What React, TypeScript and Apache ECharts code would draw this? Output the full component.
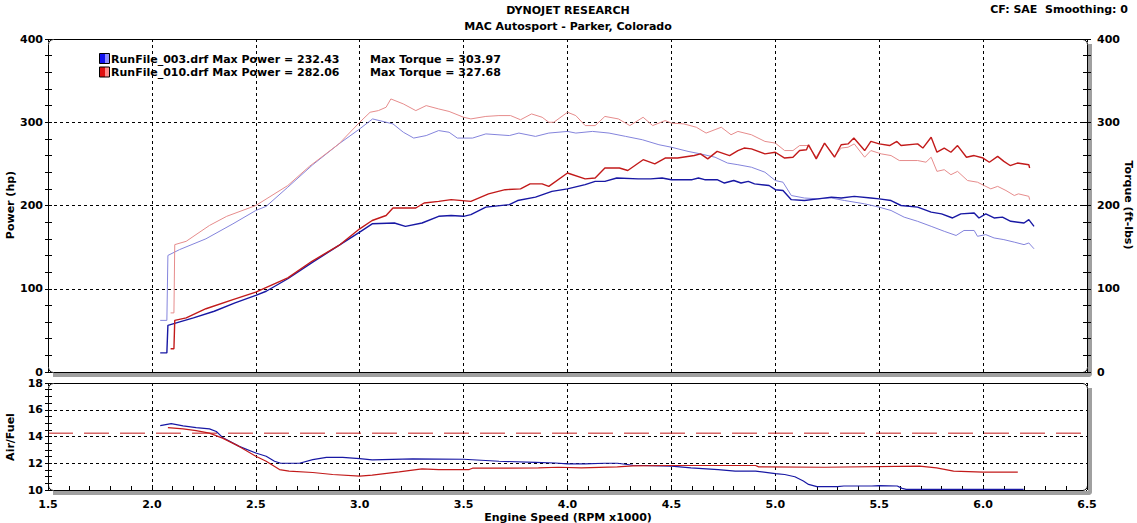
import React, { useEffect, useRef } from "react";
import * as echarts from "echarts";

// ---------- data ----------
const rpmBluePower = [2.04, 2.072, 2.077, 2.13, 2.2, 2.3, 2.4, 2.5, 2.55, 2.654, 2.774, 2.9, 3.0, 3.06, 3.167, 3.22, 3.3, 3.38, 3.44, 3.5, 3.535, 3.607, 3.72, 3.76, 3.846, 3.925, 4.0, 4.085, 4.133, 4.18, 4.237, 4.34, 4.4, 4.455, 4.5, 4.6, 4.63, 4.66, 4.72, 4.755, 4.8, 4.835, 4.87, 4.9, 4.97, 5.0, 5.037, 5.077, 5.14, 5.205, 5.27, 5.317, 5.38, 5.46, 5.5, 5.557, 5.605, 5.685, 5.75, 5.8, 5.853, 5.893, 5.957, 5.98, 6.013, 6.053, 6.093, 6.133, 6.197, 6.22, 6.245];
const bluePowerHp = [23, 23, 56, 60, 65, 73, 83, 92, 97, 112, 132, 152, 168, 178, 179, 175, 179, 187, 188, 187, 189, 198, 201, 206, 210, 217, 220, 225, 229, 229, 233, 232, 232, 233, 231, 231, 233, 231, 231, 227, 230, 227, 229, 226, 224, 219, 218, 207, 206, 208, 210, 209, 211, 209, 208, 206, 200, 198, 192, 190, 185, 190, 191, 185, 190, 185, 186, 181, 179, 183, 175];

const rpmBlueTorque = [2.04, 2.072, 2.077, 2.133, 2.26, 2.39, 2.5, 2.55, 2.654, 2.774, 2.9, 3.0, 3.062, 3.16, 3.21, 3.26, 3.32, 3.38, 3.43, 3.47, 3.543, 3.607, 3.72, 3.766, 3.846, 3.91, 4.0, 4.04, 4.12, 4.2, 4.28, 4.36, 4.44, 4.5, 4.58, 4.64, 4.71, 4.77, 4.82, 4.885, 4.95, 5.0, 5.037, 5.077, 5.14, 5.205, 5.27, 5.333, 5.43, 5.5, 5.557, 5.62, 5.685, 5.75, 5.813, 5.87, 5.908, 5.957, 5.973, 6.013, 6.053, 6.1, 6.15, 6.197, 6.22, 6.245];
const blueTorqueFtLb = [62, 62, 140, 147, 160, 178, 194, 199, 222, 249, 274, 292, 304, 298, 288, 281, 284, 290, 288, 281, 281, 286, 284, 287, 283, 287, 289, 287, 289, 287, 283, 279, 273, 270, 265, 262, 258, 251, 249, 246, 240, 230, 228, 212, 209, 208, 209, 206, 202, 198, 194, 186, 181, 175, 169, 164, 170, 170, 163, 165, 161, 159, 156, 153, 155, 148];

const rpmRedPower = [2.09, 2.106, 2.11, 2.165, 2.26, 2.39, 2.5, 2.654, 2.77, 2.9, 3.0, 3.06, 3.127, 3.16, 3.27, 3.31, 3.38, 3.44, 3.535, 3.62, 3.7, 3.774, 3.82, 3.878, 3.91, 4.0, 4.085, 4.133, 4.18, 4.25, 4.29, 4.364, 4.42, 4.47, 4.53, 4.61, 4.64, 4.675, 4.72, 4.78, 4.82, 4.85, 4.885, 4.95, 5.0, 5.045, 5.085, 5.117, 5.15, 5.16, 5.197, 5.237, 5.285, 5.317, 5.35, 5.378, 5.43, 5.46, 5.5, 5.55, 5.585, 5.605, 5.685, 5.71, 5.75, 5.778, 5.813, 5.845, 5.877, 5.92, 5.957, 6.0, 6.03, 6.07, 6.1, 6.13, 6.165, 6.22, 6.224];
const redPowerHp = [28, 28, 62, 65, 76, 87, 96, 113, 133, 152, 172, 182, 188, 197, 197, 203, 205, 207, 205, 214, 219, 220, 226, 226, 223, 239, 232, 233, 245, 245, 242, 255, 250, 257, 257, 260, 262, 256, 265, 260, 266, 269, 268, 262, 264, 257, 258, 266, 267, 273, 256, 275, 258, 273, 274, 281, 266, 277, 274, 272, 277, 272, 274, 269, 282, 264, 269, 264, 272, 258, 260, 257, 252, 259, 253, 248, 251, 249, 245];

const rpmRedTorque = [2.09, 2.106, 2.11, 2.165, 2.277, 2.36, 2.5, 2.654, 2.758, 2.9, 3.0, 3.05, 3.09, 3.127, 3.15, 3.21, 3.27, 3.32, 3.38, 3.43, 3.5, 3.535, 3.607, 3.67, 3.726, 3.774, 3.827, 3.878, 3.91, 3.934, 4.0, 4.04, 4.085, 4.133, 4.18, 4.245, 4.3, 4.364, 4.41, 4.47, 4.5, 4.56, 4.62, 4.667, 4.74, 4.787, 4.82, 4.885, 4.95, 5.0, 5.045, 5.085, 5.117, 5.157, 5.197, 5.237, 5.285, 5.317, 5.35, 5.38, 5.43, 5.46, 5.51, 5.557, 5.597, 5.685, 5.725, 5.75, 5.778, 5.813, 5.845, 5.877, 5.925, 5.973, 6.037, 6.07, 6.11, 6.15, 6.17, 6.22, 6.224];
const redTorqueFtLb = [71, 71, 153, 157, 176, 187, 200, 224, 247, 274, 300, 312, 314, 318, 328, 322, 314, 320, 316, 313, 306, 304, 307, 308, 308, 303, 310, 306, 300, 300, 312, 308, 296, 296, 307, 304, 296, 306, 296, 302, 299, 298, 294, 287, 294, 285, 289, 285, 277, 275, 266, 266, 272, 272, 258, 275, 259, 269, 270, 274, 258, 266, 262, 260, 254, 254, 252, 258, 241, 243, 237, 241, 230, 228, 220, 223, 218, 212, 214, 211, 207];

const rpmBlueAfr = [2.04, 2.093, 2.15, 2.213, 2.277, 2.31, 2.34, 2.42, 2.5, 2.55, 2.59, 2.62, 2.71, 2.774, 2.84, 2.918, 3.0, 3.06, 3.255, 3.5, 3.67, 3.845, 3.94, 4.0, 4.083, 4.18, 4.24, 4.315, 4.5, 4.594, 4.725, 4.807, 4.905, 5.0, 5.045, 5.094, 5.135, 5.16, 5.2, 5.3, 5.33, 5.464, 5.5, 5.587, 5.61, 5.63, 6.195];
const blueAfr = [14.81, 14.96, 14.8, 14.67, 14.57, 14.37, 13.93, 13.26, 12.77, 12.52, 12.15, 12.0, 12.0, 12.27, 12.44, 12.44, 12.35, 12.25, 12.32, 12.3, 12.15, 12.07, 12.02, 11.95, 11.95, 12.0, 12.0, 11.85, 11.78, 11.65, 11.53, 11.41, 11.41, 11.23, 11.16, 10.99, 10.67, 10.42, 10.25, 10.25, 10.3, 10.3, 10.32, 10.3, 10.12, 10.05, 10.05];

const rpmRedAfr = [2.077, 2.15, 2.213, 2.277, 2.34, 2.42, 2.5, 2.55, 2.614, 2.66, 2.774, 2.87, 3.0, 3.06, 3.19, 3.3, 3.38, 3.527, 3.543, 3.86, 3.955, 4.067, 4.24, 4.315, 4.5, 4.905, 4.92, 5.234, 5.694, 5.776, 5.858, 6.0, 6.167];
const redAfr = [14.67, 14.57, 14.44, 14.25, 13.88, 13.26, 12.52, 12.15, 11.53, 11.41, 11.31, 11.16, 11.04, 11.11, 11.36, 11.58, 11.53, 11.53, 11.63, 11.65, 11.7, 11.65, 11.73, 11.8, 11.83, 11.83, 11.73, 11.7, 11.78, 11.65, 11.41, 11.33, 11.33];

const afrTarget = 14.25;

const rpmRange = [1.5, 6.5];
const powerRange = [0, 400];
const afrRange = [10, 18];

const titleLines = ["DYNOJET RESEARCH", "MAC Autosport - Parker, Colorado"];
const cornerNote = "CF: SAE  Smoothing: 0";
const legendRuns = ["RunFile_003.drf Max Power = 232.43", "RunFile_010.drf Max Power = 282.06"];
const legendTorques = ["Max Torque = 303.97", "Max Torque = 327.68"];

// ---------- styling ----------
const FONT = '"DejaVu Sans", Verdana, sans-serif';
const BOLD = `bold 11px ${FONT}`;
const DARK_BLUE = "#1818a4";
const DARK_RED = "#c21a1a";
const LIGHT_BLUE = "#8484dc";
const LIGHT_RED = "#e68c8c";
const SHADOW = "#a0a0a0";

const G0 = { left: 48, top: 39, width: 1039, height: 333 };
const G1 = { left: 48, top: 383, width: 1039, height: 107 };

function pairs(x: number[], y: number[]) {
  return x.map((v, i) => [v, y[i]]);
}

const labelStyle = { color: "#000", fontFamily: FONT, fontWeight: "bold" as const, fontSize: 11 };
const gridLine = { show: true, lineStyle: { color: "#000", width: 1, type: [3, 3] } };
const tickLine = { color: "#000", width: 1 };

function lineSeries(name: string, data: number[][], color: string, width: number, xi: number, yi: number, extra: any = {}) {
  return {
    name,
    type: "line",
    xAxisIndex: xi,
    yAxisIndex: yi,
    data,
    symbol: "none",
    showSymbol: false,
    silent: true,
    lineStyle: { color, width, ...(extra.lineStyle || {}) },
    itemStyle: { color },
    emphasis: { disabled: true },
    z: extra.z ?? 8,
  };
}

function seg(x1: number, y1: number, x2: number, y2: number, stroke: string, lineWidth: number, z: number) {
  return { type: "line", z, silent: true, shape: { x1, y1, x2, y2 }, style: { stroke, lineWidth } };
}

function arc(cx: number, cy: number, r: number, a0: number, a1: number, z: number) {
  return {
    type: "arc",
    z,
    silent: true,
    shape: { cx, cy, r, startAngle: a0, endAngle: a1, clockwise: true },
    style: { stroke: "#000", lineWidth: 1, fill: "none" },
  };
}

// rounded black frame built from lines and arcs
function frameGraphics(g: { left: number; top: number; width: number; height: number }) {
  const L = g.left + 0.5;
  const T = g.top + 0.5;
  const R = g.left + g.width + 0.5;
  const B = g.top + g.height + 0.5;
  const r = 5;
  const P = Math.PI;
  return [
    seg(L + r, T, R - r, T, "#000", 1, 21),
    seg(L + r, B, R - r, B, "#000", 1, 21),
    seg(L, T + r, L, B - r, "#000", 1, 21),
    seg(R, T + r, R, B - r, "#000", 1, 21),
    arc(L + r, T + r, r, P, 1.5 * P, 21),
    arc(R - r, T + r, r, 1.5 * P, 2 * P, 21),
    arc(R - r, B - r, r, 0, P / 2, 21),
    arc(L + r, B - r, r, P / 2, P, 21),
  ];
}

function txt(text: string, x: number, y: number, align: string, rotation = 0) {
  return {
    type: "text",
    x,
    y,
    rotation,
    z: 22,
    silent: true,
    style: { text, x: 0, y: 0, font: BOLD, fill: "#000", textAlign: align, textVerticalAlign: "middle" },
  };
}

function swatch(y: number, c0: string, c1: string) {
  return {
    type: "rect",
    z: 22,
    silent: true,
    shape: { x: 99.5, y, width: 10, height: 10 },
    style: {
      fill: new echarts.graphic.LinearGradient(0, 0, 1, 0, [
        { offset: 0, color: c0 },
        { offset: 0.5, color: c0 },
        { offset: 0.55, color: c1 },
        { offset: 1, color: c1 },
      ]),
      stroke: "#000",
      lineWidth: 1,
    },
  };
}

function yAxisBase(gridIndex: number, position: string, range: number[], interval: number, minorSplit: number) {
  return {
    type: "value",
    gridIndex,
    position,
    offset: 0,
    z: 5,
    min: range[0],
    max: range[1],
    interval,
    axisLine: { show: false },
    splitLine: { show: false },
    minorSplitLine: { show: false },
    axisLabel: { show: false },
    axisTick: { show: true, inside: false, length: 4, lineStyle: tickLine },
    minorTick: { show: true, splitNumber: minorSplit, length: 4, lineStyle: tickLine },
  };
}

// CSS drop-shadow strips placed behind the (transparent) chart canvas
function shadowDivs(g: { left: number; top: number; width: number; height: number }, key: string) {
  const R = g.left + g.width;
  const B = g.top + g.height;
  return [
    <div
      key={key + "r"}
      style={{ position: "absolute", left: R + 1, top: g.top + 5, width: 4, height: g.height, background: SHADOW, borderBottomRightRadius: 4 }}
    />,
    <div
      key={key + "b"}
      style={{ position: "absolute", left: g.left + 5, top: B + 1, width: g.width, height: 4, background: SHADOW, borderBottomRightRadius: 4 }}
    />,
  ];
}

export default function App() {
  const ref = useRef<HTMLDivElement>(null);

  useEffect(() => {
    if (!ref.current) return;
    const chart = echarts.init(ref.current, null, { renderer: "svg" });

    const yAxes: any[] = [];
    yAxes.push({
      ...yAxisBase(0, "left", powerRange, 100, 5),
      axisLabel: { show: true, margin: 5, ...labelStyle },
      axisTick: { show: true, inside: false, length: 3, lineStyle: tickLine },
      minorTick: { show: true, splitNumber: 5, length: 3, lineStyle: tickLine },
      splitLine: gridLine,
    });
    yAxes.push({
      ...yAxisBase(0, "right", powerRange, 100, 5),
      z: 30,
      axisLabel: { show: true, margin: 10, ...labelStyle },
      axisTick: { show: true, inside: false, length: 4, lineStyle: tickLine },
      minorTick: { show: true, splitNumber: 5, length: 4, lineStyle: tickLine },
    });
    yAxes.push({
      ...yAxisBase(0, "left", powerRange, 100, 5),
      axisTick: { show: true, inside: true, length: 4, lineStyle: tickLine },
    });
    yAxes.push({
      ...yAxisBase(0, "right", powerRange, 100, 5),
      axisTick: { show: true, inside: true, length: 4, lineStyle: tickLine },
    });
    yAxes.push({
      ...yAxisBase(1, "left", afrRange, 2, 4),
      axisLabel: { show: true, margin: 5, ...labelStyle },
      axisTick: { show: true, inside: false, length: 3, lineStyle: tickLine },
      minorTick: { show: true, splitNumber: 4, length: 3, lineStyle: tickLine },
      splitLine: gridLine,
    });
    yAxes.push({
      ...yAxisBase(1, "left", afrRange, 2, 4),
      axisTick: { show: true, inside: true, length: 4, lineStyle: tickLine },
    });

    const option: any = {
      animation: false,
      backgroundColor: "transparent",
      grid: [
        { ...G0, show: false, containLabel: false },
        { ...G1, show: false, containLabel: false },
      ],
      xAxis: [
        {
          type: "value",
          gridIndex: 0,
          z: 5,
          min: rpmRange[0],
          max: rpmRange[1],
          interval: 0.5,
          axisLine: { show: false },
          axisTick: { show: false },
          axisLabel: { show: false },
          splitLine: gridLine,
        },
        {
          type: "value",
          gridIndex: 1,
          z: 5,
          min: rpmRange[0],
          max: rpmRange[1],
          interval: 0.5,
          axisLine: { show: false },
          axisTick: { show: true, inside: true, length: 4, lineStyle: tickLine },
          minorTick: { show: true, splitNumber: 5, length: 4, lineStyle: tickLine },
          axisLabel: {
            show: true,
            margin: 9,
            showMinLabel: true,
            showMaxLabel: true,
            formatter: (v: number) => v.toFixed(1),
            ...labelStyle,
          },
          splitLine: gridLine,
        },
      ],
      yAxis: yAxes,
      series: [
        lineSeries("RunFile_003 Torque", pairs(rpmBlueTorque, blueTorqueFtLb), LIGHT_BLUE, 1, 0, 1),
        lineSeries("RunFile_010 Torque", pairs(rpmRedTorque, redTorqueFtLb), LIGHT_RED, 1, 0, 1),
        lineSeries("RunFile_003 Power", pairs(rpmBluePower, bluePowerHp), DARK_BLUE, 1.4, 0, 0),
        lineSeries("RunFile_010 Power", pairs(rpmRedPower, redPowerHp), DARK_RED, 1.4, 0, 0),
        lineSeries("AFR target", [[rpmRange[0], afrTarget], [rpmRange[1], afrTarget]], DARK_RED, 1, 1, 4, {
          lineStyle: { type: [25, 11] },
          z: 7,
        }),
        lineSeries("RunFile_003 AFR", pairs(rpmBlueAfr, blueAfr), DARK_BLUE, 1.2, 1, 4),
        lineSeries("RunFile_010 AFR", pairs(rpmRedAfr, redAfr), DARK_RED, 1.2, 1, 4),
      ],
      graphic: {
        elements: [
          ...frameGraphics(G0),
          ...frameGraphics(G1),
          txt(titleLines[0], 568, 10, "center"),
          txt(titleLines[1], 568, 26, "center"),
          txt(cornerNote, 1128, 9, "right"),
          swatch(53.5, "#1010f0", "#8c8cff"),
          swatch(67, "#e01010", "#ff8c8c"),
          txt(legendRuns[0], 111, 59, "left"),
          txt(legendRuns[1], 111, 72.5, "left"),
          txt(legendTorques[0], 370, 59, "left"),
          txt(legendTorques[1], 370, 72.5, "left"),
          txt("Power (hp)", 10, 205, "center", Math.PI / 2),
          txt("Torque (ft-lbs)", 1128, 205, "center", -Math.PI / 2),
          txt("Air/Fuel", 10, 437, "center", Math.PI / 2),
          txt("Engine Speed (RPM x1000)", 568, 517, "center"),
        ],
      },
    };

    chart.setOption(option);
    return () => chart.dispose();
  }, []);

  return (
    <div style={{ position: "fixed", left: 0, top: 0, width: 1137, height: 523, background: "#fff" }}>
      {shadowDivs(G0, "g0")}
      {shadowDivs(G1, "g1")}
      <div ref={ref} style={{ position: "absolute", left: 0, top: 0, width: 1137, height: 523 }} />
    </div>
  );
}
